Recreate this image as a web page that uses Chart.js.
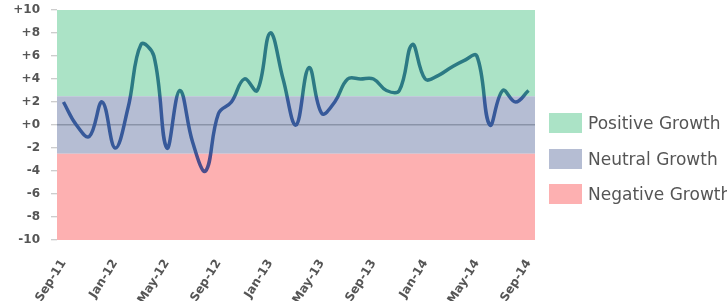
<!DOCTYPE html>
<html><head><meta charset="utf-8">
<script src="https://cdn.jsdelivr.net/npm/chart.js@4/dist/chart.umd.min.js"></script>
<style>
html,body{margin:0;padding:0;background:#fff;}
#wrap{position:relative;width:727px;height:301px;overflow:hidden;}
#legend{position:absolute;left:549px;top:113px;font-family:'DejaVu Sans',sans-serif;font-size:17px;color:#555;}
.item{display:flex;align-items:center;height:20px;margin-bottom:15.5px;white-space:nowrap;}
.sw{width:33px;height:20px;margin-right:6px;flex:none;}
</style></head><body>
<div id="wrap"><canvas id="c" width="727" height="301"></canvas><div id="legend"></div></div>
<script>
const categories = ['Sep-11','Oct-11','Nov-11','Dec-11','Jan-12','Feb-12','Mar-12','Apr-12','May-12','Jun-12','Jul-12','Aug-12',
  'Sep-12','Oct-12','Nov-12','Dec-12','Jan-13','Feb-13','Mar-13','Apr-13','May-13','Jun-13','Jul-13','Aug-13',
  'Sep-13','Oct-13','Nov-13','Dec-13','Jan-14','Feb-14','Mar-14','Apr-14','May-14','Jun-14','Jul-14','Aug-14','Sep-14'];
const growth = [2,0,-1,2,-2,1.5,7,6,-2,3,-1.5,-4,
  1,2,4,3,8,4,0,5,1,2,4,4,
  4,3,3,7,4,4.3,5,5.6,6,0,3,2,3];
const yTicks = [10,8,6,4,2,0,-2,-4,-6,-8,-10];
const bandLabels = ['Positive Growth','Neutral Growth','Negative Growth'];
const bandFrom = [2.5,-2.5,-10];
const bandTo = [10,2.5,-2.5];
const bandColors = ['#abe3c6','#b5bdd3','#fdb0b1'];
const lineColors = ['#2c7a84','#37599a','#4b4d8c'];

const leg = document.getElementById('legend');
bandLabels.forEach((l,i)=>{
  const d=document.createElement('div');d.className='item';
  const s=document.createElement('div');s.className='sw';s.style.background=bandColors[i];
  const t=document.createElement('span');t.textContent=l;
  d.appendChild(s);d.appendChild(t);leg.appendChild(d);
});

const bandsPlugin = {
  id:'bands',
  beforeDraw(chart){
    const {ctx, chartArea:a, scales:{y}} = chart;
    ctx.save();
    for(let i=0;i<bandLabels.length;i++){
      const y1=y.getPixelForValue(bandTo[i]), y2=y.getPixelForValue(bandFrom[i]);
      ctx.fillStyle=bandColors[i];
      ctx.fillRect(a.left,y1,a.right-a.left,y2-y1);
    }
    ctx.restore();
  }
};

function lineColor(c){
  const ch=c.chart; if(!ch.chartArea) return lineColors[1];
  const y=ch.scales.y;
  const top=y.getPixelForValue(10), bot=y.getPixelForValue(-10);
  const g=ch.ctx.createLinearGradient(0,top,0,bot);
  const f1=(10-bandFrom[0])/20, f2=(10-bandFrom[1])/20;
  g.addColorStop(0,lineColors[0]);g.addColorStop(f1-0.01,lineColors[0]);
  g.addColorStop(f1+0.01,lineColors[1]);g.addColorStop(f2-0.01,lineColors[1]);
  g.addColorStop(f2+0.01,lineColors[2]);g.addColorStop(1,lineColors[2]);
  return g;
}

const tickFont={family:'DejaVu Sans',size:12,weight:'bold'};
new Chart(document.getElementById('c'),{
  type:'line',
  data:{labels:categories,datasets:[{data:growth,borderColor:lineColor,borderWidth:3.5,pointRadius:0,tension:0.4,fill:false}]},
  options:{
    responsive:false,animation:false,
    layout:{padding:{top:10,right:192,left:0,bottom:0}},
    plugins:{legend:{display:false},tooltip:{enabled:false}},
    scales:{
      x:{offset:true,
        grid:{display:false},border:{display:false},
        ticks:{autoSkip:false,minRotation:58,maxRotation:58,padding:9,color:'#555',font:{family:'DejaVu Sans',size:12,weight:'bold'},
          callback:(v,i)=> i%4===0 ? categories[i] : ''},
        afterFit:s=>{s.height=61;}
      },
      y:{min:-10,max:10,
        afterBuildTicks:s=>{s.ticks=yTicks.map(v=>({value:v}));},
        grid:{color:c=>c.tick&&c.tick.value===0?'#8a93a8':'rgba(0,0,0,0)',lineWidth:1.5,drawTicks:true,tickLength:6,tickColor:'#bdbdbd',tickWidth:1},
        border:{display:false},
        ticks:{padding:11,color:'#555',font:tickFont,
          callback:v=> v>0?'+'+v:(v===0?'+0':String(v))},
        afterFit:s=>{s.width=57;s.paddingTop=0;s.paddingBottom=0;}
      }
    }
  },
  plugins:[bandsPlugin]
});
</script>
</body></html>
